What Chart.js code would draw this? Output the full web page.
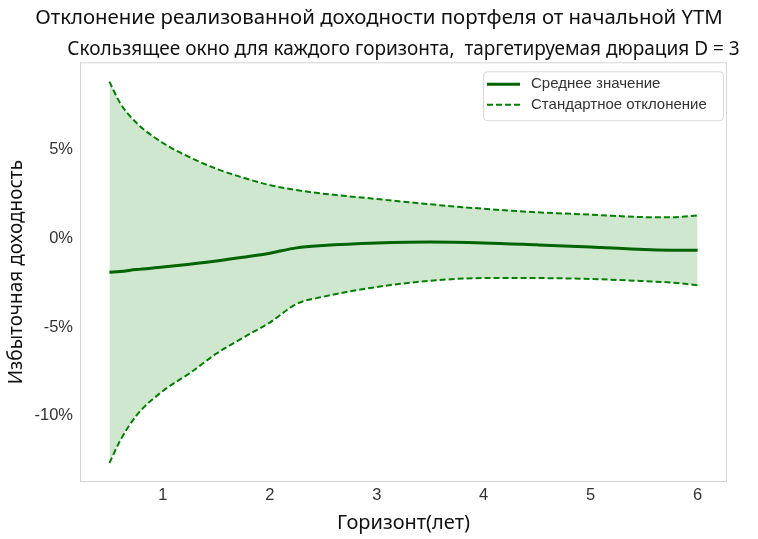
<!DOCTYPE html>
<html>
<head>
<meta charset="utf-8">
<script src="https://cdn.jsdelivr.net/npm/chart.js@4"></script>
<style>
  html, body { margin: 0; padding: 0; background: #fff; }
  #wrap { width: 758px; height: 539px; }
</style>
</head>
<body>
<div id="wrap"><canvas id="chart"></canvas></div>
<script>
// горизонт (лет)
const horizons = [0.5, 0.6, 0.75, 1, 1.25, 1.5, 1.75, 2, 2.25, 2.5, 3, 3.5, 4, 4.5, 5, 5.5, 5.75, 6];
// среднее избыточной доходности, %
const meanValues = [-1.92, -1.88, -1.77, -1.63, -1.47, -1.29, -1.08, -0.85, -0.55, -0.42, -0.28, -0.22, -0.27, -0.38, -0.5, -0.64, -0.68, -0.69];
// верхняя граница (среднее + std), %
const upperValues = [8.8, 7.6, 6.5, 5.35, 4.55, 3.9, 3.4, 2.98, 2.7, 2.5, 2.2, 1.9, 1.65, 1.45, 1.32, 1.18, 1.17, 1.28];
// нижняя граница (среднее - std), %
const lowerValues = [-12.65, -11.4, -10.0, -8.6, -7.6, -6.5, -5.6, -4.75, -3.7, -3.3, -2.75, -2.4, -2.25, -2.25, -2.3, -2.42, -2.5, -2.65];

const xTicks = [1, 2, 3, 4, 5, 6];
const yTicks = [-10, -5, 0, 5];

const titleText = 'Отклонение реализованной доходности портфеля от начальной YTM';
const subtitleText = 'Скользящее окно для каждого горизонта,  таргетируемая дюрация D = 3';
const xTitle = 'Горизонт(лет)';
const yTitle = 'Избыточная доходность';
const meanLabel = 'Среднее значение';
const stdLabel = 'Стандартное отклонение';

const titleFont = "'Comic Sans MS', 'Noto Sans', sans-serif";
const tickFont = "'Liberation Sans', Arial, sans-serif";

const toPoints = ys => horizons.map((x, i) => ({ x, y: ys[i] }));

// подзаголовок центрируется над областью графика, но без сжатия по ширине
const subtitleSpan = {
  id: 'subtitleSpan',
  afterLayout(chart) {
    const box = chart.boxes.find(b => b.options && b.options.text === subtitleText);
    if (!box) return;
    const a = chart.chartArea;
    const c = (a.left + a.right) / 2;
    box.left = c - chart.width / 2;
    box.right = c + chart.width / 2;
    box.width = chart.width;
  }
};

// рамка вокруг области графика
const frame = {
  id: 'frame',
  afterDraw(chart) {
    const { ctx, chartArea: a } = chart;
    ctx.save();
    ctx.strokeStyle = '#d4d4d4';
    ctx.lineWidth = 1;
    ctx.strokeRect(a.left + 0.5, a.top + 0.5, a.right - a.left - 1, a.bottom - a.top - 1);
    ctx.restore();
  }
};

// легенда в стиле matplotlib
const boxLegend = {
  id: 'boxLegend',
  afterDraw(chart) {
    const { ctx, chartArea: a } = chart;
    const items = chart.data.datasets.filter(d => d.label);
    const x0 = a.right - 244, y0 = a.top + 9, w = 240, h = 49;
    ctx.save();
    ctx.fillStyle = 'rgba(255,255,255,0.85)';
    ctx.strokeStyle = '#d8d8d8';
    ctx.lineWidth = 1;
    ctx.beginPath();
    ctx.roundRect(x0 + 0.5, y0 + 0.5, w, h, 4);
    ctx.fill();
    ctx.stroke();
    ctx.font = "15px " + tickFont;
    ctx.textBaseline = 'middle';
    items.forEach((d, i) => {
      const y = y0 + 13 + i * 20.5;
      ctx.strokeStyle = d.borderColor;
      ctx.lineWidth = d.borderWidth;
      ctx.setLineDash(d.borderDash || []);
      ctx.beginPath();
      ctx.moveTo(x0 + 4, y);
      ctx.lineTo(x0 + 37, y);
      ctx.stroke();
      ctx.setLineDash([]);
      ctx.fillStyle = '#333';
      ctx.fillText(d.label, x0 + 48, y);
    });
    ctx.restore();
  }
};

new Chart(document.getElementById('chart'), {
  type: 'line',
  data: {
    datasets: [
      {
        label: meanLabel,
        data: toPoints(meanValues),
        borderColor: '#006400',
        borderWidth: 3,
        pointRadius: 0,
        cubicInterpolationMode: 'monotone',
        fill: false,
        order: 0
      },
      {
        label: stdLabel,
        data: toPoints(upperValues),
        borderColor: '#008000',
        borderWidth: 2,
        borderDash: [6, 3],
        pointRadius: 0,
        cubicInterpolationMode: 'monotone',
        fill: { target: 2 },
        backgroundColor: 'rgba(0,128,0,0.19)',
        order: 1
      },
      {
        label: '',
        data: toPoints(lowerValues),
        borderColor: '#008000',
        borderWidth: 2,
        borderDash: [6, 3],
        pointRadius: 0,
        cubicInterpolationMode: 'monotone',
        fill: false,
        order: 2
      }
    ]
  },
  options: {
    responsive: true,
    maintainAspectRatio: false,
    animation: false,
    layout: { padding: 0 },
    plugins: {
      legend: { display: false },
      tooltip: { enabled: false },
      title: {
        display: true,
        text: titleText,
        color: '#111',
        font: { family: titleFont, size: 20.4, weight: 'normal' },
        padding: { top: 6, bottom: 3 }
      },
      subtitle: {
        display: true,
        text: subtitleText,
        color: '#111',
        fullSize: false,
        font: { family: titleFont, size: 19, weight: 'normal' },
        padding: { top: 5, bottom: 1 }
      }
    },
    scales: {
      x: {
        type: 'linear',
        min: 0.225,
        max: 6.275,
        grid: { display: false, drawTicks: false, tickLength: 0 },
        border: { display: false },
        afterBuildTicks: s => { s.ticks = xTicks.map(v => ({ value: v })); },
        afterFit: s => { s.height = 57; },
        ticks: {
          color: '#333',
          padding: 4,
          maxRotation: 0,
          font: { family: tickFont, size: 16.5 }
        },
        title: {
          display: true,
          text: xTitle,
          color: '#111',
          font: { family: titleFont, size: 20 },
          padding: { top: 0, bottom: 4 }
        }
      },
      y: {
        type: 'linear',
        min: -13.72,
        max: 9.89,
        grid: { display: false, drawTicks: false, tickLength: 0 },
        border: { display: false },
        afterBuildTicks: s => { s.ticks = yTicks.map(v => ({ value: v })); },
        afterFit: s => { s.width = 80; },
        ticks: {
          color: '#333',
          padding: 7,
          font: { family: tickFont, size: 16.5 },
          callback: v => v + '%'
        },
        title: {
          display: true,
          text: yTitle,
          color: '#111',
          font: { family: titleFont, size: 19 },
          padding: { top: 5, bottom: 0 }
        }
      },
      // пустая правая ось — отступ справа от области графика
      yRight: {
        position: 'right',
        display: true,
        grid: { display: false, drawTicks: false },
        border: { display: false },
        ticks: { display: false },
        afterFit: s => { s.width = 31; }
      }
    }
  },
  plugins: [subtitleSpan, frame, boxLegend]
});
</script>
</body>
</html>
